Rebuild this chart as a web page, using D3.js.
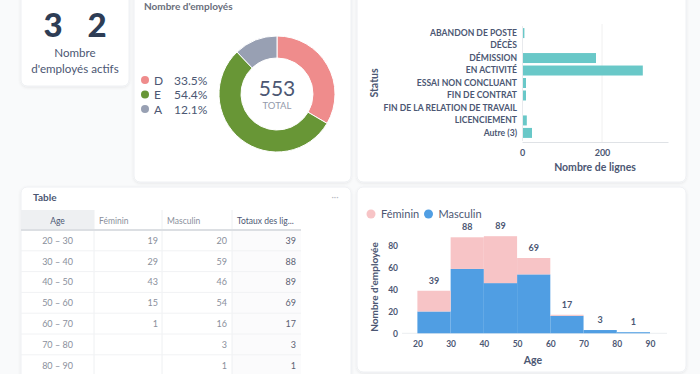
<!DOCTYPE html>
<html>
<head>
<meta charset="utf-8">
<script src="https://cdn.jsdelivr.net/npm/d3@7"></script>
<style>
  body { margin: 0; background: #f9fafb; font-family: Lato, "Open Sans", sans-serif; }
  svg { display: block; }
</style>
</head>
<body>
<svg id="canvas"></svg>
<script>
// ---- data ----
let kpiDigits = ['3', '2'];
let kpiLabel = ['Nombre', "d'employés actifs"];

let donutLabels = ['D', 'E', 'A'];
let donutValues = [185, 301, 67];
let donutColors = ['#ef8c8c', '#689636', '#98a0b3'];

let statusNames = ['ABANDON DE POSTE', 'DÉCÈS', 'DÉMISSION', 'EN ACTIVITÉ', 'ESSAI NON CONCLUANT',
    'FIN DE CONTRAT', 'FIN DE LA RELATION DE TRAVAIL', 'LICENCIEMENT', 'Autre (3)'];
let statusCounts = [6, 1, 185, 302, 10, 10, 2, 12, 25];
let statusTicks = [0, 200];

let ageBins = ['20 - 30', '30 - 40', '40 - 50', '50 - 60', '60 - 70', '70 - 80', '80 - 90'];
let ageStart = [20, 30, 40, 50, 60, 70, 80];
let feminin = [19, 29, 43, 15, 1, null, null];
let masculin = [20, 59, 46, 54, 16, 3, 1];
let tableHeaders = ['Age', 'Féminin', 'Masculin', 'Totaux des lig...'];
let histXTicks = [20, 30, 40, 50, 60, 70, 80, 90];
let histYTicks = [0, 20, 40, 60, 80];

let width = 700;
let height = 374;

let canvas = d3.select('#canvas')
    .attr('width', width)
    .attr('height', height);

let defs = canvas.append('defs');
let shadow = defs.append('filter').attr('id', 'shadow')
    .attr('x', '-10%').attr('y', '-10%').attr('width', '120%').attr('height', '120%');
shadow.append('feDropShadow')
    .attr('dx', 0).attr('dy', 1).attr('stdDeviation', 1.5)
    .attr('flood-color', '#000').attr('flood-opacity', 0.08);

let card = (x, y, w, h) => {
    canvas.append('rect')
        .attr('x', x).attr('y', y).attr('width', w).attr('height', h)
        .attr('rx', 6)
        .attr('fill', '#fff')
        .attr('stroke', '#eef0f3')
        .attr('filter', 'url(#shadow)');
};

card(21, -10, 108, 96);
card(134, -10, 217, 192);
card(357, -10, 329, 192);
card(21, 187, 330, 200);
card(357, 187, 329, 185);

// ---- KPI ----
let drawKpi = () => {
    let g = canvas.append('g').attr('fill', '#2e3d55');
    g.selectAll('text.digit')
        .data(kpiDigits)
        .enter()
        .append('text')
        .attr('class', 'digit')
        .attr('x', (d, i) => i === 0 ? 53 : 97)
        .attr('y', 37)
        .attr('text-anchor', 'middle')
        .attr('font-size', 33)
        .attr('font-weight', 900)
        .text(d => d);

    canvas.selectAll('text.kpiLabel')
        .data(kpiLabel)
        .enter()
        .append('text')
        .attr('class', 'kpiLabel')
        .attr('x', 75)
        .attr('y', (d, i) => 57 + i * 16)
        .attr('text-anchor', 'middle')
        .attr('font-size', 11.6)
        .attr('fill', '#4c5773')
        .text(d => d);
};

// ---- donut ----
let drawDonut = () => {
    canvas.append('text')
        .attr('x', 144).attr('y', 10)
        .attr('font-size', 10).attr('font-weight', 700)
        .attr('fill', '#696e7b')
        .text("Nombre d'employés");

    let total = d3.sum(donutValues);
    let pie = d3.pie().sort(null)(donutValues);
    let arc = d3.arc().innerRadius(36).outerRadius(58);

    let g = canvas.append('g').attr('transform', 'translate(277, 94)');
    g.selectAll('path')
        .data(pie)
        .enter()
        .append('path')
        .attr('d', arc)
        .attr('fill', (d, i) => donutColors[i])
        .attr('stroke', '#fff')
        .attr('stroke-width', 1);

    g.append('text')
        .attr('y', 2).attr('text-anchor', 'middle')
        .attr('font-size', 21).attr('fill', '#4c5773')
        .text(total);
    g.append('text')
        .attr('y', 15).attr('text-anchor', 'middle')
        .attr('font-size', 9.5).attr('fill', '#949aab')
        .text('TOTAL');

    let legend = canvas.selectAll('g.legend')
        .data(donutLabels)
        .enter()
        .append('g')
        .attr('class', 'legend')
        .attr('transform', (d, i) => `translate(145, ${80 + i * 14.5})`);
    legend.append('circle')
        .attr('r', 4)
        .attr('fill', (d, i) => donutColors[i]);
    legend.append('text')
        .attr('x', 9).attr('y', 4.5)
        .attr('font-size', 12).attr('fill', '#4c5773')
        .text(d => d);
    legend.append('text')
        .attr('x', 29).attr('y', 4.5)
        .attr('font-size', 12).attr('fill', '#4c5773')
        .text((d, i) => d3.format('.1%')(donutValues[i] / total));
};

// ---- status bars ----
let drawStatus = () => {
    let xScale = d3.scaleLinear().domain([0, 365]).range([522, 668]);
    let yScale = d3.scaleBand().domain(statusNames).range([25.6, 140.4]).padding(0.2);

    canvas.selectAll('line.sgrid')
        .data(statusTicks.slice(1))
        .enter()
        .append('line')
        .attr('class', 'sgrid')
        .attr('x1', d => xScale(d)).attr('x2', d => xScale(d))
        .attr('y1', 24).attr('y2', 142)
        .attr('stroke', '#f0f0f0');

    canvas.selectAll('rect.status')
        .data(statusNames)
        .enter()
        .append('rect')
        .attr('class', 'status')
        .attr('x', xScale(0))
        .attr('y', d => yScale(d))
        .attr('width', (d, i) => xScale(statusCounts[i]) - xScale(0))
        .attr('height', yScale.bandwidth())
        .attr('fill', '#69c8c8');

    let yAxis = d3.axisLeft(yScale).tickSize(0).tickPadding(5);
    let yg = canvas.append('g')
        .attr('transform', `translate(${xScale(0)}, 0)`)
        .call(yAxis);
    yg.select('.domain').attr('stroke', '#e8eaed');
    yg.selectAll('text')
        .attr('font-family', 'Lato')
        .attr('font-size', 8.6).attr('font-weight', 700)
        .attr('fill', '#4c5773');

    let xAxis = d3.axisBottom(xScale).tickValues(statusTicks).tickSize(0).tickPadding(8);
    let xg = canvas.append('g')
        .attr('transform', 'translate(0, 142)')
        .call(xAxis);
    xg.select('.domain').attr('stroke', '#dfe2e6');
    xg.selectAll('text')
        .attr('font-family', 'Lato')
        .attr('font-size', 9).attr('font-weight', 700)
        .attr('fill', '#4c5773');

    canvas.append('text')
        .attr('x', 595).attr('y', 171)
        .attr('text-anchor', 'middle')
        .attr('font-size', 10.5).attr('font-weight', 700)
        .attr('fill', '#4c5773')
        .text('Nombre de lignes');
    canvas.append('text')
        .attr('transform', 'translate(378, 83) rotate(-90)')
        .attr('text-anchor', 'middle')
        .attr('font-size', 10.5).attr('font-weight', 700)
        .attr('fill', '#4c5773')
        .text('Status');
};

// ---- table ----
let drawTable = () => {
    canvas.append('text')
        .attr('x', 33).attr('y', 201)
        .attr('font-size', 10).attr('font-weight', 700)
        .attr('fill', '#4c5773')
        .text('Table');
    canvas.append('text')
        .attr('x', 335).attr('y', 200)
        .attr('text-anchor', 'middle')
        .attr('font-size', 9).attr('fill', '#b8bbc3')
        .text('···');

    let colEdges = [21, 94, 162, 232, 301];
    let headTop = 210;
    let headH = 20;
    let rowH = 20.8;

    canvas.append('rect')
        .attr('x', colEdges[0]).attr('y', headTop)
        .attr('width', colEdges[1] - colEdges[0]).attr('height', headH)
        .attr('fill', '#eef0f2');
    canvas.append('rect')
        .attr('x', colEdges[3]).attr('y', headTop + headH)
        .attr('width', colEdges[4] - colEdges[3]).attr('height', rowH * ageBins.length)
        .attr('fill', '#fbfbfc');

    canvas.selectAll('line.vsep')
        .data(colEdges.slice(1, 4))
        .enter()
        .append('line')
        .attr('class', 'vsep')
        .attr('x1', d => d).attr('x2', d => d)
        .attr('y1', headTop).attr('y2', headTop + headH + rowH * ageBins.length)
        .attr('stroke', '#eef0f2');

    canvas.selectAll('text.th')
        .data(tableHeaders)
        .enter()
        .append('text')
        .attr('class', 'th')
        .attr('x', (d, i) => i === 0 ? (colEdges[0] + colEdges[1]) / 2 : colEdges[i] + 5)
        .attr('y', headTop + 13.5)
        .attr('text-anchor', (d, i) => i === 0 ? 'middle' : 'start')
        .attr('font-size', 8.5)
        .attr('fill', (d, i) => i === 0 || i === 3 ? '#4c5773' : '#8a8f9c')
        .text(d => d);

    canvas.append('line')
        .attr('x1', colEdges[0]).attr('x2', colEdges[4])
        .attr('y1', headTop + headH).attr('y2', headTop + headH)
        .attr('stroke', '#dcdfe3').attr('stroke-width', 2);

    let rows = canvas.selectAll('g.row')
        .data(ageBins)
        .enter()
        .append('g')
        .attr('class', 'row')
        .attr('transform', (d, i) => `translate(0, ${headTop + headH + i * rowH})`);

    rows.append('line')
        .attr('x1', colEdges[0]).attr('x2', colEdges[4])
        .attr('y1', rowH).attr('y2', rowH)
        .attr('stroke', '#f1f2f4');

    let cellY = rowH / 2 + 3.5;
    rows.append('text')
        .attr('x', (colEdges[0] + colEdges[1]) / 2).attr('y', cellY)
        .attr('text-anchor', 'middle')
        .attr('font-size', 9).attr('fill', '#8a8f9c')
        .text(d => d.replace(' - ', ' – '));
    rows.append('text')
        .attr('x', colEdges[2] - 4).attr('y', cellY)
        .attr('text-anchor', 'end')
        .attr('font-size', 9).attr('fill', '#8a8f9c')
        .text((d, i) => feminin[i] == null ? '' : feminin[i]);
    rows.append('text')
        .attr('x', colEdges[3] - 5).attr('y', cellY)
        .attr('text-anchor', 'end')
        .attr('font-size', 9).attr('fill', '#8a8f9c')
        .text((d, i) => masculin[i]);
    rows.append('text')
        .attr('x', colEdges[4] - 5).attr('y', cellY)
        .attr('text-anchor', 'end')
        .attr('font-size', 9).attr('fill', '#5c6273')
        .text((d, i) => (feminin[i] || 0) + masculin[i]);
};

// ---- histogram ----
let drawHistogram = () => {
    let xScale = d3.scaleLinear().domain([20, 90]).range([417.4, 650]);
    let yScale = d3.scaleLinear().domain([0, 100]).range([333.3, 224.2]);
    let binW = xScale(30) - xScale(20);

    canvas.append('line')
        .attr('x1', 402).attr('x2', 667)
        .attr('y1', yScale(0)).attr('y2', yScale(0))
        .attr('stroke', '#eceef1');

    canvas.selectAll('rect.masc')
        .data(ageStart)
        .enter()
        .append('rect')
        .attr('class', 'masc')
        .attr('x', d => xScale(d))
        .attr('width', binW)
        .attr('y', (d, i) => yScale(masculin[i]))
        .attr('height', (d, i) => yScale(0) - yScale(masculin[i]))
        .attr('fill', '#509ee3');

    canvas.selectAll('rect.fem')
        .data(ageStart)
        .enter()
        .append('rect')
        .attr('class', 'fem')
        .attr('x', d => xScale(d))
        .attr('width', binW)
        .attr('y', (d, i) => yScale(masculin[i] + (feminin[i] || 0)))
        .attr('height', (d, i) => yScale(0) - yScale(feminin[i] || 0))
        .attr('fill', '#f7c4c6');

    canvas.selectAll('text.tot')
        .data(ageStart)
        .enter()
        .append('text')
        .attr('class', 'tot')
        .attr('x', d => xScale(d) + binW / 2)
        .attr('y', (d, i) => yScale(masculin[i] + (feminin[i] || 0)) - 7)
        .attr('text-anchor', 'middle')
        .attr('font-size', 9).attr('font-weight', 700)
        .attr('fill', '#4c5773')
        .text((d, i) => masculin[i] + (feminin[i] || 0));

    let xAxis = d3.axisBottom(xScale).tickValues(histXTicks).tickSize(0).tickPadding(8);
    let xg = canvas.append('g')
        .attr('transform', `translate(0, ${yScale(0)})`)
        .call(xAxis);
    xg.select('.domain').remove();
    xg.selectAll('text')
        .attr('font-family', 'Lato')
        .attr('font-size', 8.5).attr('font-weight', 700)
        .attr('fill', '#4c5773');

    let yAxis = d3.axisLeft(yScale).tickValues(histYTicks).tickSize(0).tickPadding(0);
    let yg = canvas.append('g')
        .attr('transform', 'translate(398, 0)')
        .call(yAxis);
    yg.select('.domain').remove();
    yg.selectAll('text')
        .attr('font-family', 'Lato')
        .attr('font-size', 8.5).attr('font-weight', 700)
        .attr('fill', '#4c5773');

    canvas.append('text')
        .attr('x', 533).attr('y', 364)
        .attr('text-anchor', 'middle')
        .attr('font-size', 10.5).attr('font-weight', 700)
        .attr('fill', '#4c5773')
        .text('Age');
    canvas.append('text')
        .attr('transform', 'translate(378, 287) rotate(-90)')
        .attr('text-anchor', 'middle')
        .attr('font-size', 10).attr('font-weight', 700)
        .attr('fill', '#4c5773')
        .text("Nombre d'employée");

    let legendItems = [
        { name: 'Féminin', color: '#f7c4c6', x: 371 },
        { name: 'Masculin', color: '#509ee3', x: 428.5 }
    ];
    let lg = canvas.selectAll('g.hleg')
        .data(legendItems)
        .enter()
        .append('g')
        .attr('class', 'hleg')
        .attr('transform', d => `translate(${d.x}, 214)`);
    lg.append('circle').attr('r', 4.5).attr('fill', d => d.color);
    lg.append('text')
        .attr('x', 10).attr('y', 4)
        .attr('font-size', 11).attr('fill', '#4c5773')
        .text(d => d.name);
};

drawKpi();
drawDonut();
drawStatus();
drawTable();
drawHistogram();
</script>
</body>
</html>
